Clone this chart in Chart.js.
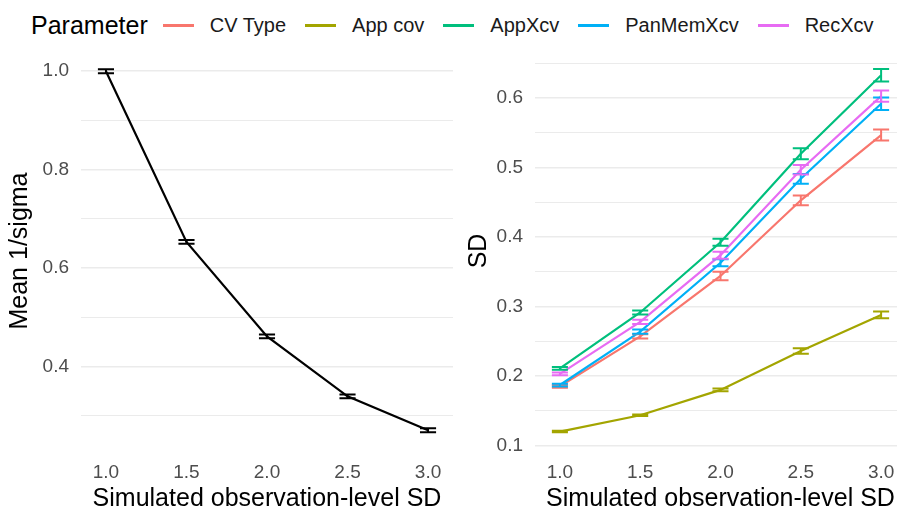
<!DOCTYPE html>
<html>
<head>
<meta charset="utf-8">
<script src="https://cdn.jsdelivr.net/npm/chart.js@4.4.1/dist/chart.umd.min.js"></script>
<style>
  html, body { margin: 0; padding: 0; background: #fff; }
  body { width: 897px; height: 508px; overflow: hidden; position: relative; font-family: "Liberation Sans", Arial, sans-serif; }
  .panel { position: absolute; top: 0; }
  #legend { position: absolute; left: 31px; top: 9px; height: 32px; display: flex; align-items: center; white-space: nowrap; }
  #legend .title { font-size: 25px; color: #000; margin-right: 15px; }
  #legend .swatch { width: 31px; height: 3px; margin-right: 16px; }
  #legend .label { font-size: 20px; color: #1a1a1a; margin-right: 19px; }
</style>
</head>
<body>
<div id="legend"></div>
<div class="panel" style="left:0"><canvas id="leftChart" width="460" height="520"></canvas></div>
<div class="panel" style="left:460px"><canvas id="rightChart" width="450" height="520"></canvas></div>
<script>
// simulated observation-level SD
const xValues = [1.0, 1.5, 2.0, 2.5, 3.0];
const xTicks = [1.0, 1.5, 2.0, 2.5, 3.0];

// left panel: mean 1/sigma with error half-widths
const meanInvSigma = [1.0, 0.653, 0.461, 0.339, 0.270];
const meanInvSigmaErr = [0.004, 0.004, 0.004, 0.004, 0.004];
const leftMajorTicks = [0.4, 0.6, 0.8, 1.0];
const leftMinorTicks = [0.3, 0.5, 0.7, 0.9];

// right panel: SD per parameter
const paramNames = ['CV Type', 'App cov', 'AppXcv', 'PanMemXcv', 'RecXcv'];
const paramColors = ['#F8766D', '#A3A500', '#00BF7D', '#00B0F6', '#E76BF3'];
const sdCvType = [0.185, 0.257, 0.344, 0.453, 0.547];
const sdAppCov = [0.120, 0.1435, 0.180, 0.236, 0.288];
const sdAppXcv = [0.211, 0.2915, 0.3925, 0.520, 0.633];
const sdPanMemXcv = [0.187, 0.264, 0.363, 0.484, 0.592];
const sdRecXcv = [0.203, 0.278, 0.374, 0.497, 0.603];
const errCvType = [0.002, 0.003, 0.006, 0.007, 0.008];
const errAppCov = [0.001, 0.001, 0.002, 0.004, 0.005];
const errAppXcv = [0.002, 0.003, 0.005, 0.008, 0.009];
const errPanMemXcv = [0.002, 0.003, 0.005, 0.007, 0.009];
const errRecXcv = [0.002, 0.003, 0.005, 0.007, 0.008];
const rightMajorTicks = [0.1, 0.2, 0.3, 0.4, 0.5, 0.6];
const rightMinorTicks = [0.15, 0.25, 0.35, 0.45, 0.55, 0.65];

const FONT = '"Liberation Sans", Arial, sans-serif';
const GRID = '#EBEBEB';
const CAP_HALF = 0.05; // errorbar cap half width in x units

// draws vertical error bars with caps using the chart's own scales
const errorBars = {
  id: 'errorBars',
  afterDatasetsDraw(chart) {
    const { ctx, scales: { x, y } } = chart;
    chart.data.datasets.forEach(ds => {
      if (!ds.errors) return;
      ctx.save();
      ctx.strokeStyle = ds.borderColor;
      ctx.lineWidth = 2;
      ds.data.forEach((p, j) => {
        const e = ds.errors[j];
        const xc = x.getPixelForValue(p.x);
        const xl = x.getPixelForValue(p.x - CAP_HALF);
        const xr = x.getPixelForValue(p.x + CAP_HALF);
        const yt = y.getPixelForValue(p.y + e);
        const yb = y.getPixelForValue(p.y - e);
        ctx.beginPath();
        ctx.moveTo(xc, yt); ctx.lineTo(xc, yb);
        ctx.moveTo(xl, yt); ctx.lineTo(xr, yt);
        ctx.moveTo(xl, yb); ctx.lineTo(xr, yb);
        ctx.stroke();
      });
      ctx.restore();
    });
  }
};

function toPoints(ys) {
  return xValues.map((x, i) => ({ x: x, y: ys[i] }));
}

function makeOptions(cfg) {
  const allTicks = cfg.major.concat(cfg.minor).sort((a, b) => a - b);
  return {
    responsive: false,
    devicePixelRatio: 1,
    animation: false,
    layout: { padding: cfg.padding },
    plugins: { legend: { display: false }, tooltip: { enabled: false } },
    elements: { point: { radius: 0 }, line: { tension: 0, borderWidth: 2.2 } },
    scales: {
      x: {
        type: 'linear',
        min: 0.845,
        max: 3.155,
        afterBuildTicks: s => { s.ticks = xTicks.map(v => ({ value: v })); },
        afterFit: s => { s.height = 63; },
        grid: { display: false },
        border: { display: false },
        ticks: {
          padding: 2,
          color: '#4D4D4D',
          font: { family: FONT, size: 19 },
          callback: v => Number(v).toFixed(1)
        },
        title: {
          display: true,
          text: 'Simulated observation-level SD',
          color: '#000',
          font: { family: FONT, size: 25 },
          padding: { top: 0, bottom: 0 }
        }
      },
      y: {
        min: cfg.min,
        max: cfg.max,
        afterBuildTicks: s => { s.ticks = allTicks.map(v => ({ value: v })); },
        afterFit: s => { s.width = cfg.axisWidth; },
        grid: {
          color: GRID,
          drawTicks: false,
          lineWidth: c => cfg.major.some(m => Math.abs(m - c.tick.value) < 1e-6) ? 1.6 : 1.1
        },
        border: { display: false },
        ticks: {
          padding: 12,
          color: '#4D4D4D',
          font: { family: FONT, size: 19 },
          callback: v => cfg.major.some(m => Math.abs(m - v) < 1e-6) ? Number(v).toFixed(1) : ''
        },
        title: {
          display: true,
          text: cfg.yTitle,
          color: '#000',
          font: { family: FONT, size: 25 },
          padding: { top: cfg.titlePad, bottom: 0 }
        }
      }
    }
  };
}

new Chart(document.getElementById('leftChart'), {
  type: 'line',
  data: {
    datasets: [{
      label: 'Mean 1/sigma',
      data: toPoints(meanInvSigma),
      errors: meanInvSigmaErr,
      borderColor: '#000000',
      backgroundColor: '#000000'
    }]
  },
  options: makeOptions({
    padding: { top: 51, right: 7, bottom: 6, left: 0 },
    min: 0.228, max: 1.041,
    major: leftMajorTicks, minor: leftMinorTicks,
    axisWidth: 81, yTitle: 'Mean 1/sigma', titlePad: 5
  }),
  plugins: [errorBars]
});

const sdSeries = [sdCvType, sdAppCov, sdAppXcv, sdPanMemXcv, sdRecXcv];
const sdErrors = [errCvType, errAppCov, errAppXcv, errPanMemXcv, errRecXcv];

new Chart(document.getElementById('rightChart'), {
  type: 'line',
  data: {
    datasets: paramNames.map((name, i) => ({
      label: name,
      data: toPoints(sdSeries[i]),
      errors: sdErrors[i],
      borderColor: paramColors[i],
      backgroundColor: paramColors[i],
      order: paramNames.length - i
    }))
  },
  options: makeOptions({
    padding: { top: 51, right: 4, bottom: 6, left: 0 },
    min: 0.092, max: 0.668,
    major: rightMajorTicks, minor: rightMinorTicks,
    axisWidth: 75, yTitle: 'SD', titlePad: 4
  }),
  plugins: [errorBars]
});

// shared legend
const legend = document.getElementById('legend');
legend.innerHTML = '<span class="title">Parameter</span>' + paramNames.map((n, i) =>
  '<span class="swatch" style="background:' + paramColors[i] + '"></span><span class="label">' + n + '</span>'
).join('');
</script>
</body>
</html>
